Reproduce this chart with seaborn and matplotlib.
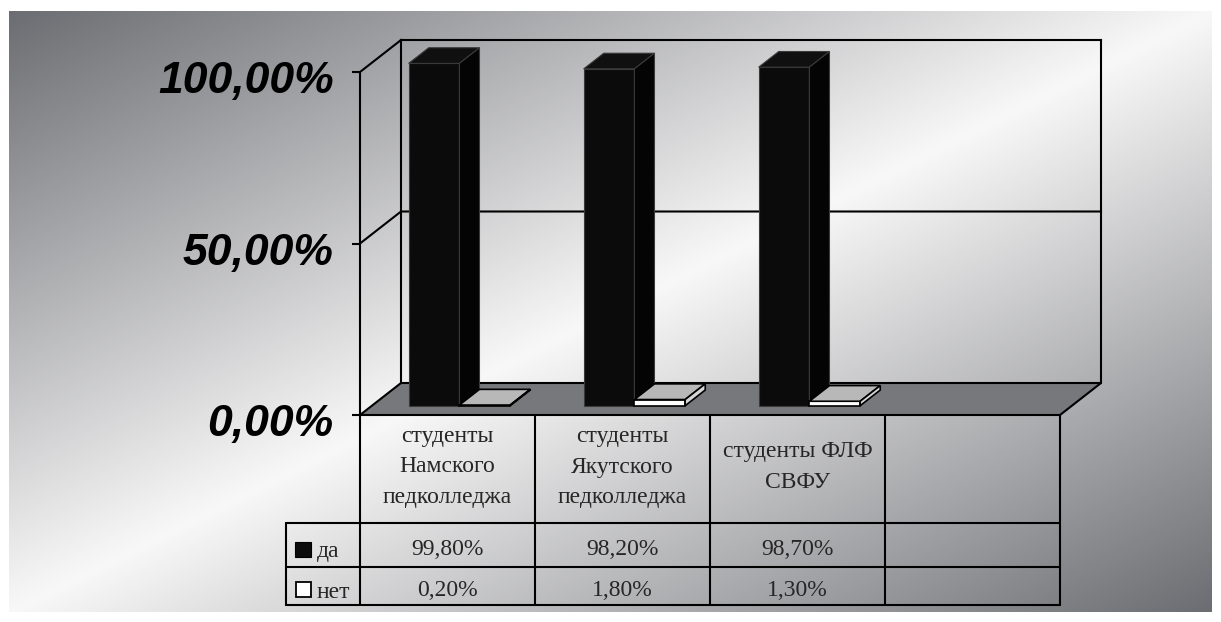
import numpy as np
import pandas as pd
import matplotlib
matplotlib.use("Agg")
import matplotlib.pyplot as plt
import seaborn as sns
from matplotlib.patches import Polygon, Rectangle
from matplotlib.transforms import Affine2D

# ---------------- data ----------------
categories = ["студенты\nНамского\nпедколледжа",
              "студенты\nЯкутского\nпедколледжа",
              "студенты ФЛФ\nСВФУ"]
series_names = ["да", "нет"]
yes_values = [0.998, 0.982, 0.987]
no_values = [0.002, 0.018, 0.013]
y_ticks = [0.0, 0.5, 1.0]
y_tick_labels = ["0,00%", "50,00%", "100,00%"]

# ---------------- style ----------------
W, H = 1221, 622
sns.set_theme(style="white")
plt.rcParams["font.family"] = ["Liberation Serif", "DejaVu Serif"]

fig = plt.figure(figsize=(W / 100, H / 100), dpi=100)
fig.patch.set_facecolor("white")

# background axes in pixel coordinates
bg = fig.add_axes([0, 0, 1, 1], zorder=0)
xs = np.linspace(0, 1, 800)
ys = np.linspace(0, 1, 400)
X, Y = np.meshgrid(xs, ys)
t = (X + Y) / 2.0
s = 1 - np.abs(2 * t - 1)
dark = np.array([0x6c, 0x6d, 0x72]) / 255.0
light = np.array([0xf8, 0xf8, 0xf8]) / 255.0
img = dark[None, None, :] + (light - dark)[None, None, :] * s[:, :, None]
bg.imshow(img, extent=[9, 1212, 612, 11], aspect="auto", interpolation="bilinear", zorder=0)
bg.set_xlim(0, W)
bg.set_ylim(H, 0)
bg.axis("off")

# plotting axes: front plane of the 3D chart
ax = fig.add_axes([360 / W, (H - 415) / H, 700 / W, 343 / H], zorder=2)
ax.patch.set_alpha(0)

df = pd.DataFrame({
    "cat": categories * 2,
    "series": ["да"] * len(categories) + ["нет"] * len(categories),
    "val": yes_values + no_values,
})
sns.barplot(data=df, x="cat", y="val", hue="series", order=categories,
            hue_order=series_names, palette={"да": "#0b0b0b", "нет": "#ffffff"},
            width=0.58, gap=0, saturation=1, legend=False, ax=ax)

ax.set_xlim(-0.5, 3.5)
ax.set_ylim(0, 1)
ax.set_xlabel("")
ax.set_ylabel("")
ax.set_xticks([])
for side in ["top", "right", "bottom"]:
    ax.spines[side].set_visible(False)
ax.spines["left"].set_color("black")
ax.spines["left"].set_linewidth(1.5)
ax.set_yticks(y_ticks)
ax.set_yticklabels(y_tick_labels, family="Liberation Sans", fontweight="bold",
                   fontstyle="italic", fontsize=32, color="black")
ax.tick_params(axis="y", direction="out", length=6, width=1.5, color="black",
               pad=13, left=True)
for tk in ax.yaxis.get_major_ticks():
    tk.label1.set_transform(tk.label1.get_transform() + Affine2D().translate(0, -5))

# ---------------- 3D geometry ----------------
DX, DY = 41.0, 32.0          # full depth offset in pixels
f0, f1 = 0.29, 0.78          # bar depth fractions (front / back)


def to_bg(xd, yd):
    disp = ax.transData.transform((xd, yd))
    return np.array(bg.transData.inverted().transform(disp))


D = np.array([DX, -DY])
FL0 = to_bg(-0.5, 0)
FL1 = to_bg(-0.5, 1)
FR0 = to_bg(3.5, 0)
FR1 = to_bg(3.5, 1)

# floor
bg.add_patch(Polygon([FL0, FR0, FR0 + D, FL0 + D], closed=True, facecolor="#77787c",
                     edgecolor="black", lw=1.5, zorder=2))
lk = dict(color="black", lw=1.5, zorder=3, solid_capstyle="projecting")
# back wall and side wall outlines
for a, b in [(FL0 + D, FL1 + D), (FL1 + D, FR1 + D), (FR1 + D, FR0 + D),
             (FL1, FL1 + D)]:
    bg.plot([a[0], b[0]], [a[1], b[1]], **lk)
# gridline 50%
G0 = to_bg(-0.5, 0.5)
G1 = to_bg(3.5, 0.5)
bg.plot([G0[0], (G0 + D)[0], (G1 + D)[0]], [G0[1], (G0 + D)[1], (G1 + D)[1]], **lk)

# bars: move fronts to bar depth and add top / side faces
face_styles = [
    dict(front_edge="#3a3a3a", top="#101010", side="#040404", lw=0.8),
    dict(front_edge="black", top="#b8b8b8", side="#d6d6d6", lw=1.2),
]
off0 = np.array([f0 * DX, -f0 * DY])
d = np.array([(f1 - f0) * DX, -(f1 - f0) * DY])
for i, cont in enumerate(ax.containers):
    st = face_styles[i]
    z = 2 + i
    for p in cont.patches:
        p.set_transform(ax.transData + Affine2D().translate(f0 * DX, f0 * DY))
        p.set_clip_on(False)
        p.set_edgecolor(st["front_edge"])
        p.set_linewidth(st["lw"])
        p.set_zorder(z)
        x0 = p.get_x()
        x1 = x0 + p.get_width()
        h = p.get_height()
        A = to_bg(x0, h) + off0
        B = to_bg(x1, h) + off0
        C = to_bg(x1, 0) + off0
        ax.add_patch(Polygon([A, B, B + d, A + d], closed=True, facecolor=st["top"],
                             edgecolor=st["front_edge"], lw=st["lw"],
                             transform=bg.transData, clip_on=False, zorder=z))
        ax.add_patch(Polygon([B, C, C + d, B + d], closed=True, facecolor=st["side"],
                             edgecolor=st["front_edge"], lw=st["lw"],
                             transform=bg.transData, clip_on=False, zorder=z))

# ---------------- data table ----------------
col_x = [to_bg(k - 0.5, 0)[0] for k in range(5)]
y_top, y_r1, y_r2, y_bot = FL0[1], 523, 567, 605
leg_x = 286
tk = dict(color="black", lw=1.5, zorder=3)
for x in col_x:
    bg.plot([x, x], [y_top, y_bot], **tk)
bg.plot([leg_x, leg_x], [y_r1, y_bot], **tk)
for y in [y_r1, y_r2, y_bot]:
    bg.plot([leg_x, col_x[-1]], [y, y], **tk)

fs = 17
for k, cat in enumerate(categories):
    cx = (col_x[k] + col_x[k + 1]) / 2
    bg.text(cx, 467, cat, ha="center", va="center", fontsize=fs,
            linespacing=1.62, zorder=4)
    bg.text(cx, 555, f"{yes_values[k] * 100:.2f}%".replace(".", ","),
            ha="center", va="baseline", fontsize=fs, zorder=4)
    bg.text(cx, 596, f"{no_values[k] * 100:.2f}%".replace(".", ","),
            ha="center", va="baseline", fontsize=fs, zorder=4)

# legend keys inside the table
bg.add_patch(Rectangle((295, 541.5), 16, 15, facecolor="#0b0b0b", edgecolor="black", lw=0.8, zorder=4))
bg.text(317, 557, series_names[0], ha="left", va="baseline", fontsize=fs, zorder=4)
bg.add_patch(Rectangle((295.5, 582), 15, 14.5, facecolor="white", edgecolor="black", lw=1.3, zorder=4))
bg.text(317, 598, series_names[1], ha="left", va="baseline", fontsize=fs, zorder=4)

fig.savefig("out.png", dpi=100)
